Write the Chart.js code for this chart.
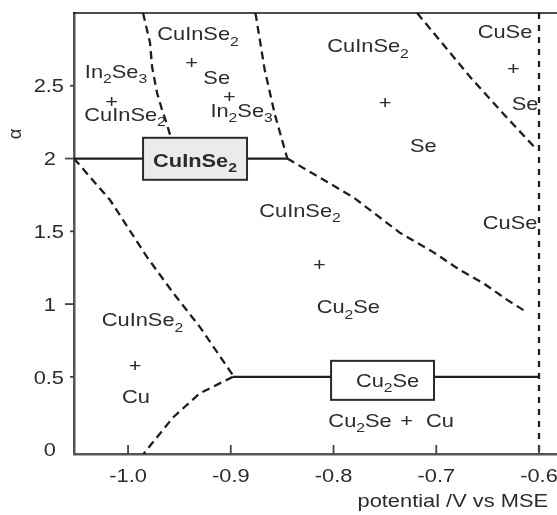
<!DOCTYPE html>
<html>
<head>
<meta charset="utf-8">
<script src="https://cdn.jsdelivr.net/npm/chart.js@4"></script>
<style>
    html, body { margin: 0; padding: 0; background: #fff; }
    #wrap { width: 557px; height: 515px; }
</style>
</head>
<body>
<div id="wrap"><canvas id="phaseChart" width="557" height="515"></canvas></div>
<script>
// Axis ranges and ticks
const xRange = [-1.0526, -0.5825];
const yRange = [-0.03, 3.0];
const xTicks = [-1.0, -0.9, -0.8, -0.7, -0.6];
const xTickLabels = ['-1.0', '-0.9', '-0.8', '-0.7', '-0.6'];
const yTicks = [0, 0.5, 1, 1.5, 2, 2.5];
const yTickLabels = ['0', '0.5', '1', '1.5', '2', '2.5'];

// Phase boundaries [potential, alpha]
const lineCuInSe2 = [[-1.0526, 2.0], [-0.845, 2.0]];
const lineCu2Se = [[-0.898, 0.5], [-0.6, 0.5]];
const bndInSe = [[-0.9854, 3.0], [-0.9786, 2.795], [-0.9766, 2.63], [-0.9718, 2.452], [-0.9669, 2.335], [-0.962, 2.232], [-0.9582, 2.142]];
const bndSeLeft = [[-0.876, 3.0], [-0.867, 2.61], [-0.857, 2.30], [-0.845, 2.0]];
const bndSeLower = [[-0.845, 2.0], [-0.781, 1.735], [-0.735, 1.488], [-0.703, 1.357], [-0.677, 1.234], [-0.6545, 1.145], [-0.631, 1.029], [-0.611, 0.94]];
const bndCuSe = [[-0.7186, 3.0], [-0.667, 2.56], [-0.635, 2.31], [-0.602, 2.06]];
const bndRight = [[-0.6, 3.0], [-0.6, -0.03]];
const bndCuUpper = [[-1.0526, 2.0], [-1.0175, 1.715], [-0.9815, 1.323], [-0.956, 1.076], [-0.930, 0.842], [-0.898, 0.512]];
const bndCuLower = [[-0.898, 0.5], [-0.930, 0.388], [-0.956, 0.223], [-0.985, -0.03]];

// Region labels ("_" marks a subscript digit)
const labelText = ['CuInSe_2', '+', 'Se', '+', 'In_2Se_3', 'In_2Se_3', '+', 'CuInSe_2',
    'CuInSe_2', '+', 'Se', 'CuSe', '+', 'Se', 'CuSe', 'CuInSe_2', '+', 'Cu_2Se',
    'CuInSe_2', '+', 'Cu', 'Cu_2Se', '+', 'Cu'];
const labelX = [-0.9319, -0.938, -0.9137, -0.9014, -0.8895, -1.0117, -1.0159, -1.0029,
    -0.7664, -0.7499, -0.7126, -0.6331, -0.625, -0.6136, -0.6282, -0.8326, -0.8138, -0.7856,
    -0.9859, -0.9932, -0.9924, -0.7742, -0.7288, -0.6964];
const labelY = [2.859, 2.66, 2.558, 2.426, 2.333, 2.601, 2.392, 2.307,
    2.778, 2.385, 2.094, 2.873, 2.617, 2.381, 1.562, 1.645, 1.270, 0.983,
    0.892, 0.582, 0.365, 0.2045, 0.2045, 0.2045];

// Boxed single-phase labels
const boxText = ['CuInSe_2', 'Cu_2Se'];
const boxBold = [true, false];
const boxX0 = [-0.9854, -0.8024];
const boxX1 = [-0.8842, -0.7022];
const boxY0 = [1.854, 0.342];
const boxY1 = [2.1426, 0.61];
const boxTextX = [-0.9348, -0.7474];
const boxTextY = [1.991, 0.479];
const boxFill = ['#ebebeb', '#ffffff'];

const xTitle = 'potential /V vs MSE';
const yTitle = 'α';

const TEXT = '#2b2b2b';
const FONT = '"Liberation Sans", Arial, sans-serif';
const FS = 18.5;      // font size
const SX = 1.18;      // the source figure is stretched horizontally

function toXY(arr) {
    return arr.map(p => ({ x: p[0], y: p[1] }));
}

function boundary(points, dash) {
    return {
        data: toXY(points),
        showLine: true,
        borderColor: '#1e1e1e',
        borderWidth: 2.3,
        borderDash: dash,
        pointRadius: 0,
        fill: false,
        tension: 0
    };
}

// split "CuInSe_2" into normal / subscript runs
function parseRich(text) {
    const runs = [];
    for (let i = 0; i < text.length; i++) {
        if (text[i] === '_') {
            runs.push({ t: text[i + 1], sub: true });
            i++;
        } else if (runs.length && !runs[runs.length - 1].sub) {
            runs[runs.length - 1].t += text[i];
        } else {
            runs.push({ t: text[i], sub: false });
        }
    }
    return runs;
}

function drawRich(ctx, text, cx, cy, bold, align) {
    const runs = parseRich(text);
    const w = bold ? 'bold ' : '';
    const subSize = FS * 0.72;
    let total = 0;
    runs.forEach(r => {
        ctx.font = w + (r.sub ? subSize : FS) + 'px ' + FONT;
        r.w = ctx.measureText(r.t).width;
        total += r.w;
    });
    ctx.save();
    ctx.translate(cx, cy);
    ctx.scale(SX, 1);
    ctx.fillStyle = TEXT;
    ctx.textBaseline = 'alphabetic';
    ctx.textAlign = 'left';
    let x = align === 'right' ? -total : (align === 'left' ? 0 : -total / 2);
    const base = FS * 0.36;
    runs.forEach(r => {
        ctx.font = w + (r.sub ? subSize : FS) + 'px ' + FONT;
        ctx.fillText(r.t, x, base + (r.sub ? FS * 0.3 : 0));
        x += r.w;
    });
    ctx.restore();
}

const phasePlugin = {
    id: 'phasePlugin',
    afterDatasetsDraw(chart) {
        const ctx = chart.ctx;
        const xs = chart.scales.x, ys = chart.scales.y;
        const area = chart.chartArea;

        // top frame line
        ctx.save();
        ctx.strokeStyle = '#111111';
        ctx.lineWidth = 1.6;
        ctx.beginPath();
        ctx.moveTo(area.left - 1, area.top);
        ctx.lineTo(area.right, area.top);
        ctx.stroke();

        // x ticks point inward
        ctx.strokeStyle = '#444444';
        ctx.lineWidth = 1.8;
        xTicks.forEach(v => {
            const px = xs.getPixelForValue(v);
            ctx.beginPath();
            ctx.moveTo(px, area.bottom);
            ctx.lineTo(px, area.bottom - 9);
            ctx.stroke();
        });
        // y ticks point outward, longer for whole numbers
        yTicks.forEach(v => {
            if (v === 0) return;
            const py = ys.getPixelForValue(v);
            const len = Number.isInteger(v) ? 9 : 4;
            ctx.beginPath();
            ctx.moveTo(area.left, py);
            ctx.lineTo(area.left - len, py);
            ctx.stroke();
        });
        ctx.restore();

        // tick labels
        xTicks.forEach((v, i) => {
            drawRich(ctx, xTickLabels[i], xs.getPixelForValue(v), area.bottom + 21, false, 'center');
        });
        yTicks.forEach((v, i) => {
            const off = Number.isInteger(v) ? 18 : 10;
            drawRich(ctx, yTickLabels[i], area.left - off, ys.getPixelForValue(v), false, 'right');
        });

        // boxes
        boxText.forEach((t, i) => {
            const x0 = xs.getPixelForValue(boxX0[i]);
            const x1 = xs.getPixelForValue(boxX1[i]);
            const y0 = ys.getPixelForValue(boxY1[i]);
            const y1 = ys.getPixelForValue(boxY0[i]);
            ctx.save();
            ctx.fillStyle = boxFill[i];
            ctx.strokeStyle = '#2a2a2a';
            ctx.lineWidth = 2;
            ctx.fillRect(x0, y0, x1 - x0, y1 - y0);
            ctx.strokeRect(x0, y0, x1 - x0, y1 - y0);
            ctx.restore();
            drawRich(ctx, t, xs.getPixelForValue(boxTextX[i]), ys.getPixelForValue(boxTextY[i]), boxBold[i], 'center');
        });

        // region labels
        labelText.forEach((t, i) => {
            drawRich(ctx, t, xs.getPixelForValue(labelX[i]), ys.getPixelForValue(labelY[i]), false, 'center');
        });

        // axis titles
        drawRich(ctx, xTitle, 548, area.bottom + 46, false, 'right');
        ctx.save();
        ctx.translate(16, 134);
        ctx.rotate(-Math.PI / 2);
        ctx.fillStyle = TEXT;
        ctx.font = FS + 'px ' + FONT;
        ctx.textAlign = 'center';
        ctx.textBaseline = 'middle';
        ctx.fillText(yTitle, 0, 0);
        ctx.restore();
    }
};

const dash = [8, 5];

new Chart(document.getElementById('phaseChart'), {
    type: 'scatter',
    data: {
        datasets: [
            boundary(lineCuInSe2, []),
            boundary(lineCu2Se, []),
            boundary(bndInSe, dash),
            boundary(bndSeLeft, dash),
            boundary(bndSeLower, dash),
            boundary(bndCuSe, dash),
            boundary(bndRight, [6, 6]),
            boundary(bndCuUpper, dash),
            boundary(bndCuLower, dash)
        ]
    },
    options: {
        responsive: false,
        animation: false,
        layout: { padding: { top: 13, right: 0, left: 0, bottom: 0 } },
        plugins: {
            legend: { display: false },
            tooltip: { enabled: false }
        },
        scales: {
            x: {
                type: 'linear',
                min: xRange[0],
                max: xRange[1],
                grid: { display: false },
                border: { display: true, color: '#555555', width: 2.5 },
                ticks: { display: false },
                afterFit: s => { s.height = 61; }
            },
            y: {
                type: 'linear',
                min: yRange[0],
                max: yRange[1],
                grid: { display: false },
                border: { display: true, color: '#555555', width: 2.5 },
                ticks: { display: false },
                afterFit: s => { s.width = 74; }
            }
        }
    },
    plugins: [phasePlugin]
});
</script>
</body>
</html>
